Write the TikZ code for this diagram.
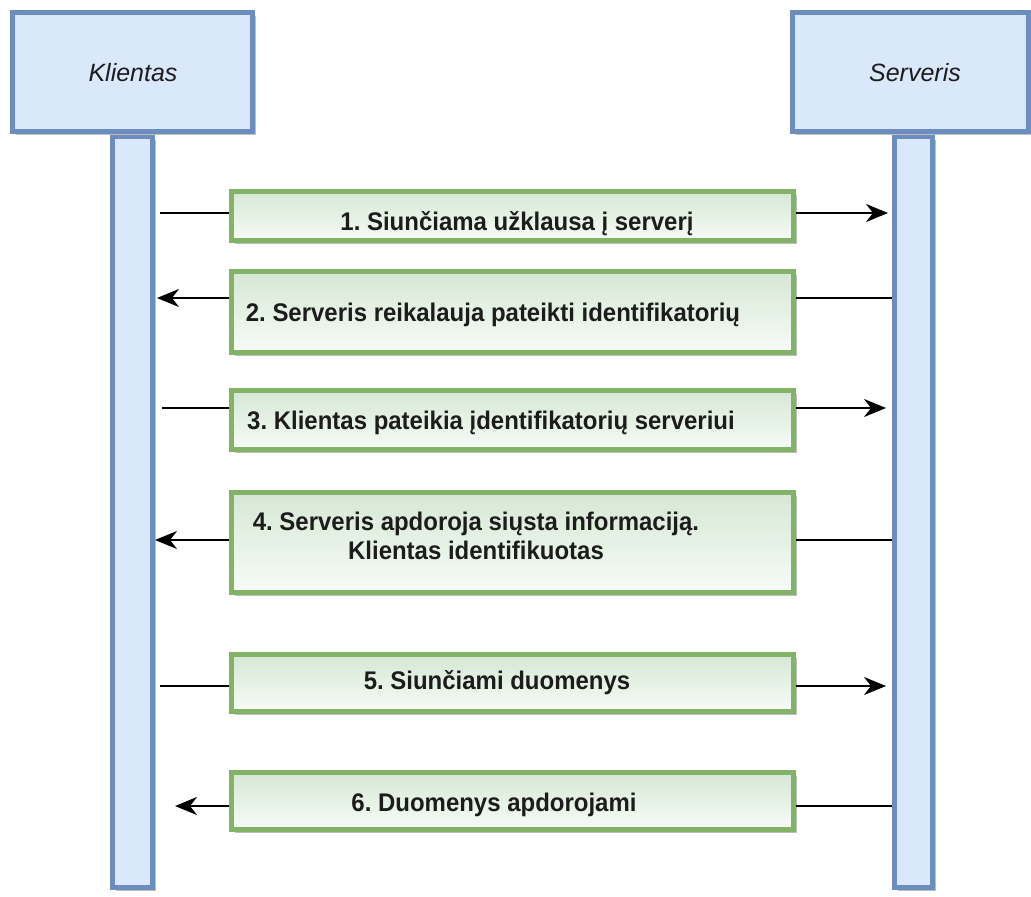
\documentclass[tikz,border=0pt]{standalone}
\usepackage{fontspec}
\setmainfont{Liberation Sans}
\newfontfamily\msgfont[FakeStretch=0.94]{Liberation Sans}
\usetikzlibrary{arrows.meta,shadows,calc}
\frenchspacing

\definecolor{actorline}{HTML}{6C8EBF}
\definecolor{actorfill}{HTML}{DAE8FC}
\definecolor{msgline}{HTML}{82B366}
\definecolor{msgtop}{HTML}{D5E8D4}
\definecolor{msgbottom}{HTML}{F7FBF7}
\definecolor{shade}{HTML}{BDBDBD}
\definecolor{ink}{HTML}{1C1C1C}

\tikzset{
  boxshadow/.style={drop shadow={shadow xshift=3pt, shadow yshift=-3pt, fill=shade, opacity=1}},
  actor/.style={draw=actorline, fill=actorfill, line width=5pt, inner sep=0pt, boxshadow},
  actorlabel/.style={font=\fontsize{25}{30}\selectfont\itshape, text=ink, anchor=base},
  lifeline/.style={draw=actorline, fill=actorfill, line width=5pt, inner sep=0pt, boxshadow},
  msgbox/.style={draw=msgline, line width=5pt, inner sep=0pt, top color=msgtop,
    bottom color=msgbottom, boxshadow, minimum width=562pt},
  msgtext/.style={font=\msgfont\fontsize{25.5}{29}\selectfont\bfseries, text=ink, inner sep=0pt,
    anchor=base, align=center},
  link/.style={draw=black, line width=2pt},
  call/.style={link, arrows={-Stealth[length=22pt, width=18pt, inset=7pt]}},
}

\begin{document}
\begin{tikzpicture}[x=1pt, y=-1pt]
  \useasboundingbox (0,0) rectangle (1031,897);

  % lifelines
  \node[lifeline, minimum width=40pt, minimum height=751pt] (klife) at (132.5,512) {};
  \node[lifeline, minimum width=38pt, minimum height=751pt] (slife) at (913.5,512) {};

  % participants
  \node[actor, minimum width=240pt, minimum height=119pt] (client) at (132.5,72) {};
  \node[actor, minimum width=236pt, minimum height=119pt] (server) at (910.5,72) {};
  \node[actorlabel] (clientlbl) at (133,81) {Klientas};
  \node[actorlabel] (serverlbl) at (915,81) {Serveris};

  % message boxes
  \node[msgbox, minimum height=49pt]  (m1) at (512.5,216) {};
  \node[msgbox, minimum height=81pt]  (m2) at (512.5,312) {};
  \node[msgbox, minimum height=59pt]  (m3) at (512.5,420) {};
  \node[msgbox, minimum height=100pt] (m4) at (512.5,542.5) {};
  \node[msgbox, minimum height=57pt]  (m5) at (512.5,683) {};
  \node[msgbox, minimum height=57pt]  (m6) at (512.5,801) {};

  % message texts
  \node[msgtext] (t1) at (517,230) {1. Siunčiama užklausa į serverį};
  \node[msgtext] (t2) at (493,321) {2. Serveris reikalauja pateikti identifikatorių};
  \node[msgtext] (t3) at (491,429) {3. Klientas pateikia įdentifikatorių serveriui};
  \node[msgtext] (t4) at (476,559) {4. Serveris apdoroja siųsta informaciją.\\Klientas identifikuotas};
  \node[msgtext] (t5) at (497,689) {5. Siunčiami duomenys};
  \node[msgtext] (t6) at (494,811) {6. Duomenys apdorojami};

  % arrow levels
  \coordinate (y1) at (0,213);
  \coordinate (y2) at (0,298);
  \coordinate (y3) at (0,408);
  \coordinate (y4) at (0,540);
  \coordinate (y5) at (0,686);
  \coordinate (y6) at (0,806);

  % 1: client -> server
  \draw[link] ($(klife.east |- y1)+(5,0)$) -- (m1.west |- y1);
  \draw[call] (m1.east |- y1) -- ($(slife.west |- y1)+(-4,0)$);
  % 2: server -> client
  \draw[link] (slife.west |- y2) -- (m2.east |- y2);
  \draw[call] (m2.west |- y2) -- ($(klife.east |- y2)+(2,0)$);
  % 3: client -> server
  \draw[link] ($(klife.east |- y3)+(7,0)$) -- (m3.west |- y3);
  \draw[call] (m3.east |- y3) -- ($(slife.west |- y3)+(-6,0)$);
  % 4: server -> client
  \draw[link] (slife.west |- y4) -- (m4.east |- y4);
  \draw[call] (m4.west |- y4) -- (klife.east |- y4);
  % 5: client -> server
  \draw[link] ($(klife.east |- y5)+(5,0)$) -- (m5.west |- y5);
  \draw[call] (m5.east |- y5) -- ($(slife.west |- y5)+(-6,0)$);
  % 6: server -> client
  \draw[link] (slife.west |- y6) -- (m6.east |- y6);
  \draw[call] (m6.west |- y6) -- ($(klife.east |- y6)+(20,0)$);
\end{tikzpicture}
\end{document}
